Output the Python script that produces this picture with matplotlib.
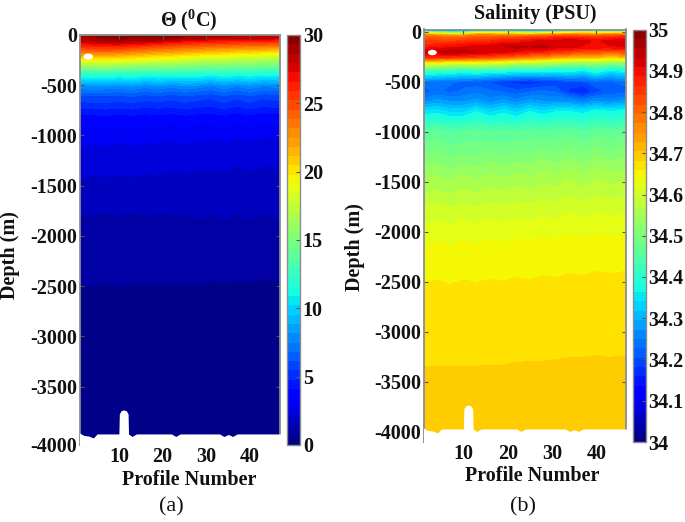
import numpy as np
import matplotlib
matplotlib.use("Agg")
import matplotlib.pyplot as plt
from matplotlib.patches import Ellipse

plt.rcParams['font.family'] = ['Liberation Serif', 'DejaVu Serif']
plt.rcParams['mathtext.fontset'] = 'custom'
plt.rcParams['mathtext.bf'] = 'Liberation Serif:bold'

profiles = [1, 4, 7, 10, 13, 16, 19, 22, 25, 28, 31, 34, 37, 40, 43, 47]
depths = [0, -20, -40, -60, -100, -150, -200, -250, -300, -350, -400, -500,
          -600, -700, -800, -1000, -1250, -1500, -1800, -2100, -2500, -3000, -3500, -4100]

theta = [
    [27.5, 28.0, 28.6, 28.8, 28.6, 28.4, 28.8, 28.5, 28.4, 28.3, 28.0, 28.2, 27.8, 27.6, 27.9, 27.4],
    [28.8, 29.2, 29.6, 29.8, 29.5, 29.4, 29.7, 29.4, 29.3, 29.0, 28.8, 28.8, 28.5, 28.2, 28.5, 28.0],
    [28.4, 28.8, 29.2, 29.3, 29.0, 29.0, 28.8, 28.4, 28.0, 27.6, 27.4, 27.3, 27.1, 26.8, 27.0, 26.6],
    [27.6, 28.0, 28.3, 28.4, 28.1, 28.0, 27.6, 27.0, 26.7, 26.4, 26.2, 26.1, 25.9, 25.6, 25.8, 25.4],
    [26.0, 26.3, 26.4, 26.5, 26.0, 25.7, 25.2, 24.9, 24.6, 24.4, 24.2, 24.1, 23.9, 23.8, 23.7, 23.6],
    [24.0, 24.2, 24.3, 24.1, 23.6, 23.3, 22.9, 22.7, 22.3, 22.0, 21.6, 21.6, 21.2, 21.1, 20.9, 20.6],
    [21.4, 21.5, 21.6, 21.3, 21.0, 20.7, 20.3, 20.1, 19.7, 19.4, 19.1, 19.0, 18.6, 18.6, 18.3, 18.0],
    [18.8, 18.9, 18.9, 18.7, 18.4, 18.2, 17.9, 17.7, 17.4, 17.1, 16.9, 16.9, 16.6, 16.6, 16.3, 16.2],
    [16.0, 16.1, 16.2, 15.9, 15.8, 15.6, 15.4, 15.4, 15.1, 15.0, 14.8, 14.9, 14.6, 14.8, 14.4, 14.4],
    [13.4, 13.5, 13.6, 13.3, 13.4, 13.2, 13.1, 13.2, 13.0, 13.1, 12.7, 13.0, 12.7, 12.9, 12.5, 12.5],
    [11.4, 11.5, 11.5, 11.2, 11.4, 11.1, 11.2, 11.1, 11.1, 11.1, 10.7, 11.1, 10.8, 11.0, 10.7, 10.8],
    [8.0, 8.2, 8.1, 7.9, 8.2, 7.8, 8.1, 7.8, 8.0, 7.9, 7.5, 8.0, 7.6, 8.0, 7.6, 7.8],
    [6.0, 6.1, 6.1, 6.0, 6.2, 5.9, 6.1, 5.8, 6.1, 5.9, 5.7, 6.1, 5.7, 6.1, 5.7, 5.9],
    [5.0, 5.1, 5.1, 5.0, 5.1, 4.9, 5.0, 4.9, 5.1, 4.9, 4.8, 5.1, 4.8, 5.1, 4.8, 5.0],
    [3.95, 3.95, 4.0, 3.9, 4.0, 3.85, 3.95, 3.8, 4.0, 3.85, 3.8, 4.0, 3.75, 3.95, 3.75, 3.85],
    [2.95, 2.9, 2.95, 2.85, 2.95, 2.85, 2.9, 2.8, 2.9, 2.85, 2.8, 2.88, 2.75, 2.85, 2.75, 2.78],
    [2.38, 2.32, 2.36, 2.28, 2.36, 2.28, 2.32, 2.24, 2.3, 2.24, 2.2, 2.24, 2.14, 2.22, 2.14, 2.14],
    [1.88, 1.84, 1.86, 1.8, 1.85, 1.78, 1.8, 1.75, 1.78, 1.72, 1.72, 1.72, 1.64, 1.7, 1.62, 1.66],
    [1.3, 1.34, 1.28, 1.34, 1.29, 1.35, 1.3, 1.34, 1.32, 1.4, 1.33, 1.4, 1.33, 1.41, 1.34, 1.4],
    [0.99, 1.02, 0.98, 1.02, 0.98, 1.02, 0.99, 1.0, 0.97, 1.0, 0.97, 0.98, 0.95, 0.97, 0.94, 0.95],
    [0.66, 0.67, 0.66, 0.67, 0.66, 0.67, 0.65, 0.66, 0.65, 0.66, 0.64, 0.65, 0.63, 0.64, 0.63, 0.63],
    [0.5, 0.5, 0.5, 0.5, 0.5, 0.5, 0.49, 0.49, 0.49, 0.49, 0.48, 0.48, 0.48, 0.48, 0.47, 0.47],
    [0.4, 0.4, 0.4, 0.4, 0.4, 0.4, 0.39, 0.39, 0.39, 0.39, 0.38, 0.38, 0.38, 0.38, 0.38, 0.38],
    [0.3, 0.3, 0.3, 0.3, 0.3, 0.3, 0.3, 0.3, 0.3, 0.3, 0.3, 0.3, 0.3, 0.3, 0.3, 0.3],
]

salinity = [
    [34.34, 34.24, 34.18, 34.22, 34.36, 34.38, 34.38, 34.30, 34.24, 34.28, 34.36, 34.40, 34.44, 34.42, 34.40, 34.44],
    [34.60, 34.56, 34.50, 34.52, 34.62, 34.62, 34.62, 34.58, 34.56, 34.58, 34.62, 34.64, 34.66, 34.64, 34.64, 34.66],
    [34.76, 34.74, 34.72, 34.72, 34.77, 34.77, 34.75, 34.75, 34.75, 34.77, 34.78, 34.80, 34.78, 34.78, 34.80, 34.80],
    [34.80, 34.80, 34.78, 34.79, 34.81, 34.81, 34.82, 34.81, 34.83, 34.83, 34.85, 34.85, 34.85, 34.84, 34.85, 34.87],
    [34.84, 34.84, 34.83, 34.85, 34.86, 34.86, 34.88, 34.88, 34.90, 34.92, 34.92, 34.93, 34.92, 34.90, 34.92, 34.93],
    [34.87, 34.88, 34.89, 34.90, 34.91, 34.92, 34.93, 34.94, 34.93, 34.94, 34.92, 34.92, 34.90, 34.90, 34.90, 34.91],
    [34.92, 34.93, 34.94, 34.94, 34.93, 34.92, 34.91, 34.90, 34.88, 34.87, 34.85, 34.84, 34.82, 34.82, 34.80, 34.82],
    [34.87, 34.87, 34.86, 34.85, 34.84, 34.83, 34.81, 34.79, 34.77, 34.76, 34.73, 34.72, 34.71, 34.71, 34.69, 34.71],
    [34.66, 34.66, 34.64, 34.64, 34.64, 34.63, 34.62, 34.60, 34.60, 34.58, 34.57, 34.56, 34.54, 34.56, 34.54, 34.54],
    [34.52, 34.51, 34.50, 34.49, 34.50, 34.49, 34.48, 34.46, 34.46, 34.45, 34.44, 34.44, 34.42, 34.45, 34.42, 34.43],
    [34.40, 34.39, 34.38, 34.37, 34.38, 34.36, 34.36, 34.35, 34.35, 34.35, 34.34, 34.35, 34.33, 34.37, 34.33, 34.35],
    [34.24, 34.23, 34.23, 34.22, 34.21, 34.20, 34.18, 34.17, 34.16, 34.17, 34.18, 34.20, 34.20, 34.22, 34.22, 34.24],
    [34.21, 34.23, 34.22, 34.23, 34.24, 34.23, 34.22, 34.21, 34.22, 34.23, 34.22, 34.17, 34.15, 34.19, 34.21, 34.21],
    [34.26, 34.28, 34.27, 34.27, 34.28, 34.26, 34.28, 34.26, 34.28, 34.27, 34.27, 34.27, 34.25, 34.27, 34.26, 34.28],
    [34.34, 34.35, 34.33, 34.33, 34.36, 34.33, 34.35, 34.33, 34.36, 34.34, 34.36, 34.36, 34.35, 34.37, 34.36, 34.37],
    [34.455, 34.462, 34.452, 34.455, 34.462, 34.452, 34.458, 34.452, 34.462, 34.455, 34.462, 34.465, 34.452, 34.468, 34.46, 34.468],
    [34.50, 34.51, 34.495, 34.505, 34.50, 34.512, 34.50, 34.51, 34.505, 34.518, 34.505, 34.52, 34.505, 34.522, 34.512, 34.522],
    [34.548, 34.555, 34.546, 34.555, 34.548, 34.558, 34.552, 34.56, 34.554, 34.564, 34.558, 34.57, 34.556, 34.572, 34.562, 34.57],
    [34.598, 34.603, 34.596, 34.603, 34.598, 34.604, 34.600, 34.606, 34.602, 34.608, 34.604, 34.612, 34.606, 34.612, 34.607, 34.612],
    [34.634, 34.636, 34.633, 34.637, 34.634, 34.637, 34.635, 34.639, 34.637, 34.641, 34.638, 34.643, 34.640, 34.644, 34.642, 34.644],
    [34.6585, 34.6595, 34.658, 34.6595, 34.6585, 34.660, 34.659, 34.661, 34.660, 34.662, 34.661, 34.663, 34.662, 34.664, 34.663, 34.664],
    [34.672, 34.672, 34.672, 34.672, 34.672, 34.673, 34.673, 34.673, 34.674, 34.674, 34.675, 34.675, 34.675, 34.676, 34.675, 34.676],
    [34.686, 34.686, 34.686, 34.686, 34.686, 34.686, 34.686, 34.687, 34.687, 34.687, 34.687, 34.688, 34.688, 34.688, 34.688, 34.688],
    [34.695, 34.695, 34.695, 34.695, 34.695, 34.695, 34.695, 34.695, 34.695, 34.695, 34.695, 34.695, 34.695, 34.695, 34.695, 34.695],
]

# sea floor outline, white below it
floor_x = [1, 2, 3, 4.2, 5, 10, 10.1, 10.5, 11, 11.7, 12.1, 12.2, 13, 14, 22, 23, 24, 33, 34, 35, 36, 37, 47]
floor_z = [-3960, -3985, -3990, -4010, -3970, -3970, -3770, -3740, -3730, -3740, -3770, -3970, -3995, -3970,
           -3970, -3995, -3970, -3970, -3995, -3975, -3995, -3970, -3970]

x_ticks = [10, 20, 30, 40]
depth_ticks = [0, -500, -1000, -1500, -2000, -2500, -3000, -3500, -4000]
depth_labels = ['0', '-500', '-1000', '-1500', '-2000', '-2500', '-3000', '-3500', '-4000']
theta_ticks = [0, 5, 10, 15, 20, 25, 30]
sal_ticks = [34, 34.1, 34.2, 34.3, 34.4, 34.5, 34.6, 34.7, 34.8, 34.9, 35]
sal_labels = ['34', '34.1', '34.2', '34.3', '34.4', '34.5', '34.6', '34.7', '34.8', '34.9', '35']

W, H = 685, 522
GRAY = '#8c8c8c'
INK = '#111111'
N_BANDS = 44


def px_axes(fig, x0, x1, y0, y1):
    return fig.add_axes([x0 / W, 1 - y1 / H, (x1 - x0) / W, (y1 - y0) / H])


def panel(fig, box, cbox, values, vmin, vmax, ylim, yticks, cticks, clabels, title, title_xy,
          xlabel_xy, ylabel_xy, tag, tag_xy, spot):
    ax = px_axes(fig, *box)
    levels = np.linspace(vmin, vmax, N_BANDS + 1)
    cs = ax.contourf(profiles, depths, values, levels=levels, cmap='jet')
    cs.set_edgecolor('face')
    ax.fill_between(floor_x, floor_z, -4200, color='white', lw=0, zorder=3)
    ax.add_patch(Ellipse(spot[:2], spot[2], spot[3], color='white', lw=0, zorder=3))
    ax.set_xlim(1, 46.7)
    ax.set_ylim(*ylim)
    ax.set_xticks(x_ticks)
    ax.set_yticks(yticks)
    ax.set_yticklabels(depth_labels)
    ax.tick_params(direction='in', top=True, right=True, length=3, color='#555555', pad=1.5,
                   labelcolor=INK, width=0.8, labelsize=14.5)
    for lab in ax.get_xticklabels() + ax.get_yticklabels():
        lab.set_fontweight('bold')
    for s in ax.spines.values():
        s.set_color(GRAY)
        s.set_linewidth(1.3)
    ax.set_zorder(2)

    cax = px_axes(fig, *cbox)
    cb = fig.colorbar(cs, cax=cax, ticks=cticks)
    cb.ax.set_yticklabels(clabels)
    cb.ax.tick_params(direction='in', length=3, color='#555555', pad=2, width=0.8,
                      labelcolor=INK, labelsize=14.5)
    for lab in cb.ax.get_yticklabels():
        lab.set_fontweight('bold')
    cb.outline.set_edgecolor(GRAY)
    cb.outline.set_linewidth(1.0)

    fig.text(title_xy[0] / W, 1 - title_xy[1] / H, title, ha='center', va='center',
             fontweight='bold', fontsize=14.5, color=INK)
    fig.text(xlabel_xy[0] / W, 1 - xlabel_xy[1] / H, 'Profile Number', ha='center', va='center',
             fontweight='bold', fontsize=14.5, color=INK)
    fig.text(ylabel_xy[0] / W, 1 - ylabel_xy[1] / H, 'Depth (m)', ha='center', va='center',
             rotation=90, fontweight='bold', fontsize=14.5, color=INK)
    fig.text(tag_xy[0] / W, 1 - tag_xy[1] / H, tag, ha='center', va='center', fontsize=16, color=INK)


fig = plt.figure(figsize=(W / 100, H / 100), dpi=100)

panel(fig, (79.5, 279.5, 35, 445), (286.5, 300, 35, 445), theta, 0, 30, (-4080, 0),
      [0, -500, -1000, -1500, -2000, -2500, -3000, -3500, -4080], theta_ticks,
      [str(v) for v in theta_ticks], 'Θ ($\\mathbf{^{0}}$C)', (189, 20), (189, 480), (10, 255),
      '(a)', (171, 507), (3.0, -215, 2.2, 60))

panel(fig, (423.5, 626, 29.5, 442), (632.5, 645.5, 29.5, 442), salinity, 34, 35, (-4100, 20),
      depth_ticks, sal_ticks, sal_labels, 'Salinity (PSU)', (535, 14), (532, 476), (355, 247),
      '(b)', (523, 507), (3.0, -210, 2.0, 55))

fig.savefig('out.png', dpi=100)
